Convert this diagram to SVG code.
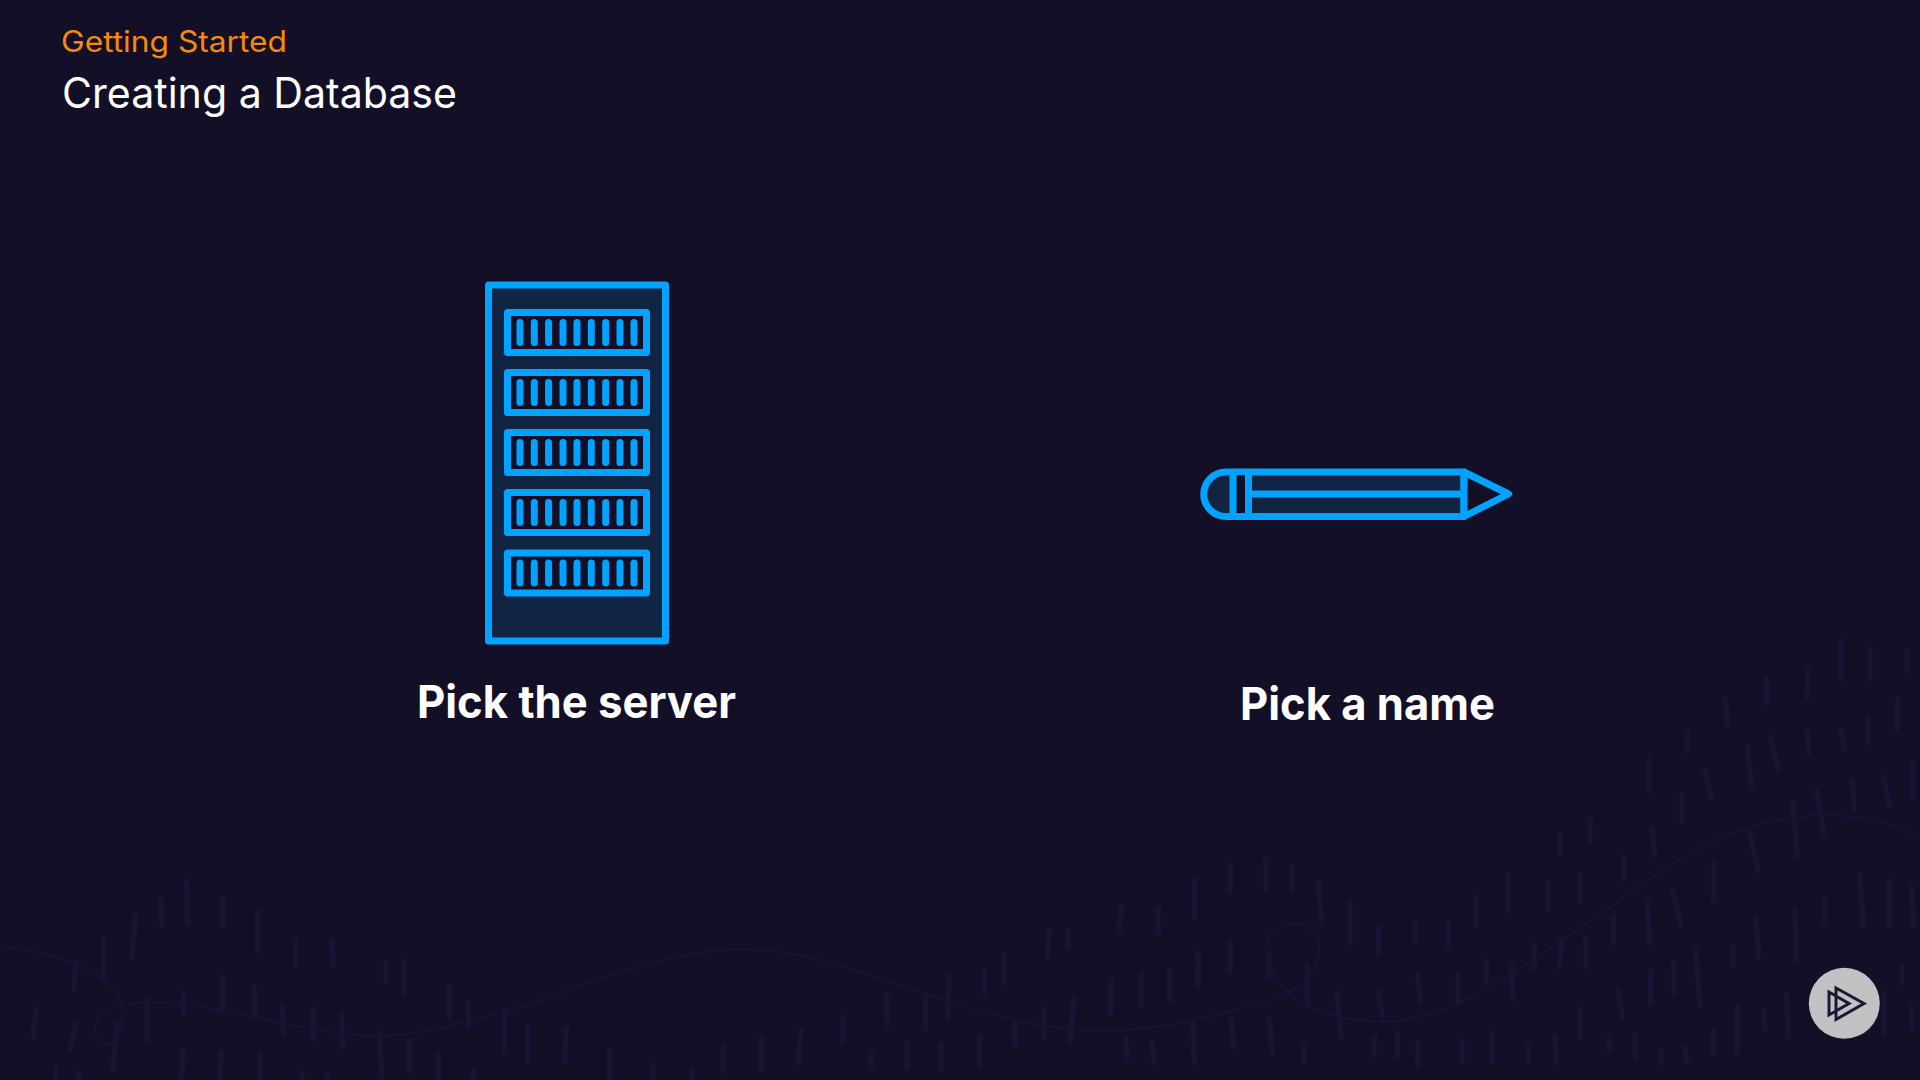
<svg xmlns="http://www.w3.org/2000/svg" width="1920" height="1080" viewBox="0 0 1920 1080">
<style>
.bg{fill:#120f26}
.tk{fill:none;stroke:#181534;stroke-width:5.5;stroke-linecap:round;vector-effect:non-scaling-stroke}
.cv{fill:none;stroke:#181534;stroke-width:2;vector-effect:non-scaling-stroke}
.ln{stroke:#00a3ff;stroke-width:7;stroke-linejoin:round}
.fillb{fill:#112543}
.bay{fill:#120f26}
.bar{fill:#00a3ff}
.t{font-family:Inter,"Noto Sans","Liberation Sans",sans-serif;font-variant-ligatures:none}
.lbl{font-size:45px;font-weight:700;fill:#fff}
</style>
<defs>
<rect id="bar" class="bar" x="-3.5" y="0" width="7" height="27" rx="3.5"/>
<g id="unit">
<rect class="bay ln" x="507.5" y="312.5" width="139" height="40"/>
<use href="#bar" x="520" y="319"/><use href="#bar" x="534.3" y="319"/><use href="#bar" x="548.6" y="319"/><use href="#bar" x="563" y="319"/><use href="#bar" x="577" y="319"/><use href="#bar" x="591.3" y="319"/><use href="#bar" x="605.7" y="319"/><use href="#bar" x="620" y="319"/><use href="#bar" x="634" y="319"/>
</g>
</defs>
<rect class="bg" width="1920" height="1080"/>
<g id="background">
<g transform="translate(0 860) scale(.4464 .3333)">
<path class="cv" d="M0,258 C90,270 180,310 235,360 C275,400 285,465 265,525 C255,560 225,570 215,530 C200,480 240,440 300,430 C380,420 470,440 560,468 C650,495 750,525 840,527 C950,530 1060,480 1180,435 C1300,380 1430,310 1568,277"/>
<path class="tk" d="M418,62L420,190M361,118L362,195M500,112L498,200M578,155L578,275M303,165L295,295M232,230L232,350M662,240L662,322M744,240L746,320M169,305L166,385M864,308L864,365M906,303L906,400M498,350L498,440M570,382L570,470M411,395L411,460M1006,380L1006,470M1049,428L1049,500M633,435L635,520M701,445L701,540M329,418L329,540M765,463L768,562M81,447L75,530M170,492L158,568M263,492L252,632M850,518L855,650M1130,452L1130,575M1182,497L1182,610M1268,505L1265,605M916,540L916,635M981,578L981,660M1367,573L1367,655M410,572L405,660M495,578L492,660M582,580L582,660M125,622L125,660M177,635L177,660M677,638L677,660M733,638L733,660M1060,632L1060,660M1462,613L1462,660M1550,632L1550,660"/>
</g>
<g transform="translate(700 860) scale(.4464 .3333)">
<path class="cv" d="M0,280 C60,262 150,265 220,285 C330,315 450,385 560,425 C680,475 780,510 890,512 C1000,515 1120,480 1200,450 C1260,428 1320,405 1350,370 C1390,320 1400,240 1370,210 C1340,180 1290,185 1272,240 C1258,300 1290,380 1350,430 C1400,470 1480,490 1568,482"/>
<path class="tk" d="M1187,15L1187,95M1268,0L1268,90M1326,18L1326,90M1385,65L1392,190M1108,58L1108,175M1456,130L1456,250M945,135L938,215M1026,145L1026,215M1520,205L1520,280M782,207L778,298M824,208L824,262M1187,250L1187,335M681,280L681,370M1115,278L1115,375M637,325L637,398M1053,330L1053,420M1360,315L1360,430M988,342L988,440M558,345L555,470M922,362L918,462M418,405L420,497M505,405L505,505M1426,395L1436,530M1518,395L1530,470M836,418L830,548M771,445L771,535M320,470L320,545M706,485L706,555M1105,485L1108,610M1190,478L1195,565M1274,472L1282,580M226,510L220,610M137,532L137,632M52,558L52,635M954,535L956,600M1012,542L1018,610M1353,555L1353,610M1510,530L1510,585M1562,518L1562,590M626,530L626,620M540,553L540,625M464,548L464,622M383,578L383,622M1275,280L1275,350"/>
</g>
<g transform="translate(1400 640) scale(.3333)">
<path class="cv" d="M0,1140 C120,1125 250,1060 350,990 C480,910 620,810 760,710 C900,610 1060,540 1230,527 C1350,520 1470,540 1560,595"/>
<path class="tk" d="M1322,0L1322,120M1411,25L1411,118M1521,30L1521,95M1224,85L1222,172M1100,115L1100,190M975,175L982,255M1494,175L1490,268M862,275L862,335M1404,235L1404,310M1320,265L1335,330M1222,270L1226,340M1110,290L1135,392M1042,318L1055,440M746,358L746,455M915,388L935,475M1538,370L1538,475M1358,422L1362,510M1450,410L1470,500M1250,450L1272,580M846,460L846,545M1178,485L1192,650M570,540L570,605M480,580L480,645M758,565L762,645M1048,575L1075,695M672,648L672,720M942,670L942,780M325,705L325,815M540,700L540,788M444,725L444,808M1378,702L1390,862M1467,720L1467,862M1535,740L1540,858M818,755L842,855M742,785L748,912M228,770L228,860M1274,778L1274,850M1185,808L1190,960M46,842L46,905M145,845L145,918M640,830L640,910M1068,835L1075,950M558,898L558,982M402,915L402,985M484,900L478,985M998,920L998,980M886,928L900,1098M258,962L258,1025M335,978L338,1080M752,995L752,1090M822,968L822,1058M1505,980L1505,1030M52,1005L62,1085M174,1005L174,1090M655,1050L668,1135M540,1105L540,1195M1160,1060L1165,1190M1092,1110L1095,1170M1012,1100L1010,1240M1452,1058L1452,1178M1535,1100L1535,1165M940,1170L940,1240M628,1190L628,1232M706,1185L706,1255M782,1228L782,1270M855,1220L860,1268M465,1190L470,1270M385,1218L385,1270M275,1178L275,1265M187,1202L187,1268M52,1210L55,1275"/>
</g>
</g>
<g id="heading">
<text class="t" x="61" y="51.5" font-size="29.5" fill="#f58a0e" textLength="226" lengthAdjust="spacingAndGlyphs">Getting Started</text>
<text class="t" x="62" y="107.5" font-size="42" fill="#fff" textLength="395" lengthAdjust="spacingAndGlyphs">Creating a Database</text>
</g>
<g id="server">
<rect class="ln fillb" x="488.5" y="285" width="177" height="356"/>
<use href="#unit"/><use href="#unit" y="60"/><use href="#unit" y="120"/><use href="#unit" y="180"/><use href="#unit" y="240.4"/>
<text class="t lbl" x="417" y="717.5" textLength="319" lengthAdjust="spacingAndGlyphs">Pick the server</text>
</g>
<g id="pencil">
<path class="ln fillb" d="M1226,472H1464V516.5H1226A22.25,22.25 0 0 1 1226,472Z"/>
<rect x="1236.5" y="475" width="8.5" height="38" fill="#120f26"/>
<path class="ln" fill="none" d="M1233,472V516.5M1248.5,472V516.5M1248.5,494H1464"/>
<path class="ln" fill="#120f26" d="M1464,472L1508.5,494L1464,516.5Z"/>
<text class="t lbl" x="1240" y="720" textLength="255" lengthAdjust="spacingAndGlyphs">Pick a name</text>
</g>
<g id="logo">
<circle cx="1844.3" cy="1003.3" r="35.5" fill="#c2c2c5"/>
<path fill="none" stroke="#1a1832" stroke-width="3" d="M1836,988V1019.5L1864,1003.5ZM1829,992V1015L1849,1003.5Z"/>
</g>
</svg>
